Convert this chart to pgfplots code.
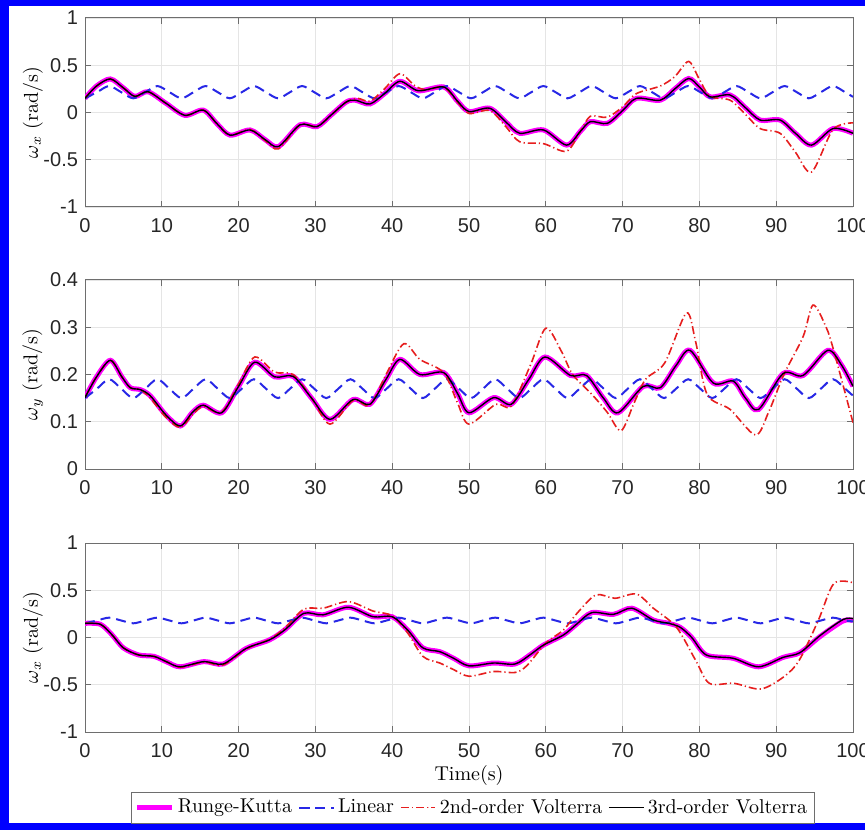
\documentclass[border=0pt]{standalone}
\usepackage{fontspec}
\usepackage{pgfplots}
\usepackage{pgfplotstable}
\pgfplotsset{compat=1.18}
\newfontfamily\ticksf{Liberation Sans}

\definecolor{rkmag}{RGB}{255,0,255}
\definecolor{linblue}{RGB}{40,40,230}
\definecolor{v2red}{RGB}{230,30,30}
\definecolor{framegray}{RGB}{110,110,110}

% Linear model (quarter-period points): t, top, middle, bottom
\pgfplotstableread{
t a b c
0 0.15 0.15 0.15
1.571 0.215 0.17 0.18
3.142 0.28 0.19 0.21
4.712 0.215 0.17 0.18
6.283 0.15 0.15 0.15
7.854 0.215 0.17 0.18
9.425 0.28 0.19 0.21
10.996 0.215 0.17 0.18
12.566 0.15 0.15 0.15
14.137 0.215 0.17 0.18
15.708 0.28 0.19 0.21
17.279 0.215 0.17 0.18
18.850 0.15 0.15 0.15
20.420 0.215 0.17 0.18
21.991 0.28 0.19 0.21
23.562 0.215 0.17 0.18
25.133 0.15 0.15 0.15
26.704 0.215 0.17 0.18
28.274 0.28 0.19 0.21
29.845 0.215 0.17 0.18
31.416 0.15 0.15 0.15
32.987 0.215 0.17 0.18
34.558 0.28 0.19 0.21
36.128 0.215 0.17 0.18
37.699 0.15 0.15 0.15
39.270 0.215 0.17 0.18
40.841 0.28 0.19 0.21
42.412 0.215 0.17 0.18
43.982 0.15 0.15 0.15
45.553 0.215 0.17 0.18
47.124 0.28 0.19 0.21
48.695 0.215 0.17 0.18
50.265 0.15 0.15 0.15
51.836 0.215 0.17 0.18
53.407 0.28 0.19 0.21
54.978 0.215 0.17 0.18
56.549 0.15 0.15 0.15
58.119 0.215 0.17 0.18
59.690 0.28 0.19 0.21
61.261 0.215 0.17 0.18
62.832 0.15 0.15 0.15
64.403 0.215 0.17 0.18
65.973 0.28 0.19 0.21
67.544 0.215 0.17 0.18
69.115 0.15 0.15 0.15
70.686 0.215 0.17 0.18
72.257 0.28 0.19 0.21
73.827 0.215 0.17 0.18
75.398 0.15 0.15 0.15
76.969 0.215 0.17 0.18
78.540 0.28 0.19 0.21
80.111 0.215 0.17 0.18
81.681 0.15 0.15 0.15
83.252 0.215 0.17 0.18
84.823 0.28 0.19 0.21
86.394 0.215 0.17 0.18
87.965 0.15 0.15 0.15
89.535 0.215 0.17 0.18
91.106 0.28 0.19 0.21
92.677 0.215 0.17 0.18
94.248 0.15 0.15 0.15
95.819 0.215 0.17 0.18
97.389 0.28 0.19 0.21
98.960 0.215 0.17 0.18
100 0.165 0.155 0.17
}\linear

\pgfplotstableread{
t v
0 0.15
1.5 0.28
3.3 0.355
5 0.26
6.5 0.17
8.2 0.22
10.5 0.1
13 -0.03
15.4 0.025
17.2 -0.12
18.9 -0.24
21.5 -0.185
23.5 -0.29
25.2 -0.36
28 -0.13
30.2 -0.15
32 -0.03
34 0.11
35.2 0.13
37.1 0.09
39 0.2
41 0.33
43.4 0.23
46.7 0.27
48.5 0.12
50 0.01
52.7 0.045
54.8 -0.1
56.6 -0.22
59.7 -0.185
62.7 -0.345
64.5 -0.2
65.8 -0.097
68 -0.115
70 0.02
71.8 0.15
74.9 0.13
76.8 0.25
78.6 0.36
80 0.27
81.4 0.165
84 0.185
86 0.05
87.9 -0.08
90.5 -0.08
92.5 -0.22
94.6 -0.345
97.4 -0.17
100 -0.22
}\rkA

\pgfplotstableread{
t v
0 0.15
1.5 0.28
3.3 0.355
5 0.26
6.5 0.17
8.2 0.22
10.5 0.1
13 -0.03
15.4 0.025
17.2 -0.12
18.9 -0.24
21.5 -0.18
23.5 -0.3
25.2 -0.385
28 -0.13
30.2 -0.15
32 -0.03
34 0.11
35.5 0.15
37.1 0.12
39 0.25
41 0.41
43 0.28
44.5 0.24
46.7 0.27
48.5 0.11
50 -0.01
52.7 0.02
54.8 -0.15
56.6 -0.31
59.7 -0.33
62.7 -0.41
64.5 -0.2
65.8 -0.04
68 -0.05
70 0.06
71.8 0.2
74.9 0.28
76.8 0.38
78.6 0.54
80 0.35
81.4 0.17
84 0.13
86 -0.02
87.9 -0.17
90.5 -0.22
92.5 -0.42
94.6 -0.63
97.4 -0.18
100 -0.11
}\vA

\pgfplotstableread{
t v
0 0.151
1.5 0.195
3.3 0.23
4.8 0.195
5.9 0.172
7.2 0.168
8.5 0.155
10.5 0.115
12.4 0.091
14 0.12
15.4 0.135
17.8 0.119
20 0.175
22.1 0.226
24.7 0.195
27.1 0.196
29.5 0.15
31.9 0.105
34.9 0.147
37.1 0.137
39.2 0.19
41 0.232
43.6 0.2
46.7 0.204
48.5 0.16
50 0.119
53.2 0.151
55.5 0.137
57.8 0.19
59.9 0.237
63.2 0.198
65.3 0.198
67.5 0.15
69.4 0.119
72.7 0.175
74.9 0.172
77 0.22
78.8 0.251
81.8 0.182
84.4 0.186
86 0.15
87.7 0.126
90.9 0.202
93.5 0.198
96.7 0.251
98.5 0.22
100 0.175
}\rkB

\pgfplotstableread{
t v
0 0.151
1.5 0.195
3.3 0.23
4.8 0.195
5.9 0.172
7.2 0.168
8.5 0.15
10.5 0.11
12.4 0.088
14 0.115
15.4 0.132
17.8 0.12
20 0.18
22.1 0.237
24.7 0.205
27.1 0.2
29.5 0.15
31.9 0.095
34.9 0.145
37.1 0.135
39.2 0.2
41.5 0.265
43.6 0.232
46.7 0.204
48.5 0.14
50 0.095
53.5 0.137
55.5 0.133
58 0.22
60 0.298
62 0.25
63.5 0.2
66 0.158
68 0.12
69.8 0.081
71.5 0.14
73 0.19
75.5 0.225
78.3 0.33
79.5 0.27
81 0.158
84 0.126
87.3 0.072
89 0.12
91 0.2
93.5 0.28
94.8 0.347
96.5 0.3
97.5 0.25
100 0.098
}\vB

\pgfplotstableread{
t v w
0 0.15 0.15
2 0.14 0.14
3.5 0.03 0.03
5 -0.11 -0.11
7 -0.185 -0.185
9 -0.2 -0.2
10.7 -0.26 -0.26
12.4 -0.31 -0.31
15.5 -0.255 -0.255
18 -0.28 -0.28
21 -0.115 -0.115
24 -0.026 -0.026
26 0.08 0.08
28.5 0.256 0.256
31 0.24 0.24
34.3 0.32 0.32
37.5 0.22 0.22
40 0.22 0.22
42 0.08 0.08
44 -0.11 -0.11
46.2 -0.15 -0.15
48 -0.22 -0.22
50 -0.3 -0.3
53.2 -0.27 -0.27
56 -0.28 -0.28
58 -0.18 -0.18
59.7 -0.08 -0.08
62.3 0.027 0.027
64 0.14 0.14
65.97 0.263 0.263
68.8 0.245 0.245
71.2 0.31 0.31
74 0.185 0.185
76 0.15 0.15
77.5 0.108 0.108
79 0.0 0.0
80.9 -0.185 -0.185
84.4 -0.22 -0.22
87.7 -0.31 -0.31
90.9 -0.21 -0.21
93.1 -0.16 -0.16
95.7 0.01 0.02
98.7 0.175 0.19
100 0.18 0.2
}\rkC

\pgfplotstableread{
t v
0 0.15
2 0.14
3.5 0.03
5 -0.11
7 -0.185
9 -0.2
10.7 -0.26
12.4 -0.315
15.5 -0.26
18 -0.29
21 -0.12
24 -0.02
26 0.1
28.5 0.3
31 0.31
34.3 0.38
37.5 0.28
40 0.23
42 0.05
44 -0.2
46.2 -0.27
48 -0.34
50 -0.41
53.2 -0.36
56 -0.37
57.5 -0.3
60 -0.06
62.3 0.08
64 0.25
66.5 0.45
69 0.415
71.8 0.46
74 0.31
77 0.11
79.5 -0.24
81.3 -0.485
84.5 -0.485
88 -0.545
91 -0.415
93 -0.24
95.5 0.185
97.5 0.57
100 0.58
}\vC

\pgfplotsset{
  panel/.style={
    scale only axis, width=384pt, height=94.5pt,
    anchor=south west,
    xmin=0, xmax=100, xtick={0,10,...,100},
    grid=major, major grid style={gray!20, line width=0.4pt},
    axis line style={framegray, line width=0.5pt},
    tick style={framegray, line width=0.5pt},
    tick align=inside, major tick length=3pt,
    ticklabel style={font=\ticksf\fontsize{10}{12}\selectfont, text=black!85},
    /pgf/number format/assume math mode=true,
    xticklabel style={yshift=-2pt},
    ylabel style={at={(axis description cs:-0.068,0.5)}, anchor=center, font=\fontsize{10}{12}\selectfont},
    xlabel style={font=\fontsize{10}{12}\selectfont},
    legend style={font=\fontsize{10}{12}\selectfont},
  },
  rk/.style={rkmag, line width=2.5pt, smooth},
  lin/.style={linblue, line width=1pt, dash pattern=on 5pt off 3pt, smooth},
  v2/.style={v2red, line width=0.8pt, dash pattern=on 4pt off 1.5pt on 0.6pt off 1.5pt, smooth},
  v3/.style={black, line width=0.7pt, smooth},
}

\begin{document}
\begin{tikzpicture}
\fill[blue] (0,0) rectangle (440pt,3.5pt);
\fill[blue] (0,412pt) rectangle (440pt,415pt);
\fill[blue] (0,0) rectangle (4.5pt,415pt);

\begin{axis}[panel, at={(42.5pt,311.5pt)},
  ymin=-1, ymax=1, ytick={-1,-0.5,0,0.5,1}, yticklabels={-1,-0.5,0,0.5,1},
  ylabel={$\omega_x$ (rad/s)}]
  \addplot[rk] table[x=t,y=v] {\rkA};
  \addplot[lin] table[x=t,y=a] {\linear};
  \addplot[v2] table[x=t,y=v] {\vA};
  \addplot[v3] table[x=t,y=v] {\rkA};
\end{axis}

\begin{axis}[panel, at={(42.5pt,180.5pt)},
  ymin=0, ymax=0.4, ytick={0,0.1,0.2,0.3,0.4}, yticklabels={0,0.1,0.2,0.3,0.4},
  ylabel={$\omega_y$ (rad/s)}]
  \addplot[rk] table[x=t,y=v] {\rkB};
  \addplot[lin] table[x=t,y=b] {\linear};
  \addplot[v2] table[x=t,y=v] {\vB};
  \addplot[v3] table[x=t,y=v] {\rkB};
\end{axis}

\begin{axis}[panel, at={(42.5pt,49pt)},
  ymin=-1, ymax=1, ytick={-1,-0.5,0,0.5,1}, yticklabels={-1,-0.5,0,0.5,1},
  ylabel={$\omega_x$ (rad/s)},
  xlabel={Time(s)},
  xlabel style={at={(axis description cs:0.5,-0.2275)}, anchor=center},
  legend columns=4,
  legend style={at={(axis description cs:0.505,-0.4)}, anchor=center,
    draw=framegray, fill=white, inner sep=1.5pt,
    /tikz/every even column/.append style={column sep=1pt}},
  legend cell align=left]
  \addplot[rk] table[x=t,y=v] {\rkC};
  \addlegendentry{Runge-Kutta}
  \addplot[lin] table[x=t,y=c] {\linear};
  \addlegendentry{Linear}
  \addplot[v2] table[x=t,y=v] {\vC};
  \addlegendentry{2nd-order Volterra}
  \addplot[v3] table[x=t,y=w] {\rkC};
  \addlegendentry{3rd-order Volterra}
\end{axis}

\pgfresetboundingbox
\path[use as bounding box] (0,0) rectangle (432.5pt,415pt);
\end{tikzpicture}
\end{document}
